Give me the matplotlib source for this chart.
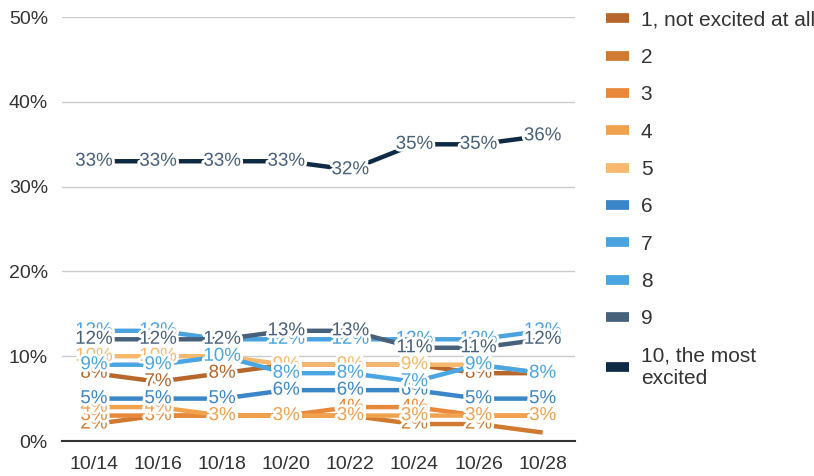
import matplotlib.pyplot as plt
import matplotlib.patheffects as pe
from matplotlib.lines import Line2D

plt.rcParams['font.family'] = ['Liberation Sans', 'DejaVu Sans']

dates = ['10/14', '10/16', '10/18', '10/20', '10/22', '10/24', '10/26', '10/28']

series_names = ['1, not excited at all', '2', '3', '4', '5', '6', '7', '8', '9',
                '10, the most\nexcited']
s1 = [8, 7, 8, 9, 9, 9, 8, 8]
s2 = [2, 3, 3, 3, 3, 2, 2, 1]
s3 = [3, 3, 3, 3, 4, 4, 3, 3]
s4 = [4, 4, 3, 3, 3, 3, 3, 3]
s5 = [10, 10, 10, 9, 9, 9, 9, 8]
s6 = [5, 5, 5, 6, 6, 6, 5, 5]
s7 = [13, 13, 12, 12, 12, 12, 12, 13]
s8 = [9, 9, 10, 8, 8, 7, 9, 8]
s9 = [12, 12, 12, 13, 13, 11, 11, 12]
s10 = [33, 33, 33, 33, 32, 35, 35, 36]
values = [s1, s2, s3, s4, s5, s6, s7, s8, s9, s10]

# labels the reference does not show (series index, date index)
hidden_labels = [(1, 7)]

colors = ['#b8672c', '#cf7a30', '#e8883a', '#f0a24e', '#f5b86c',
          '#3a86c8', '#4aa3df', '#4aa6e2', '#48617b', '#0f2a44']
label_colors = ['#b8672c', '#cf7a30', '#e8883a', '#f0a24e', '#f5b86c',
                '#3a86c8', '#4aa3df', '#4aa6e2', '#48617b', '#48617b']

fig = plt.figure(figsize=(8.14, 4.76), dpi=100)
ax = fig.add_axes([0.076, 0.0735, 0.63, 0.8905])

x = list(range(len(dates)))
for i, vals in enumerate(values):
    ax.plot(x, vals, color=colors[i], lw=3.2, solid_capstyle='butt', zorder=2)

# value labels, later series drawn on top
for i, vals in enumerate(values):
    for xi, v in zip(x, vals):
        if (i, xi) in hidden_labels:
            continue
        ax.text(xi, v, f'{v}%', ha='center', va='center', fontsize=13.5,
                color=label_colors[i], zorder=3 + i,
                path_effects=[pe.withStroke(linewidth=4, foreground='white')])

ax.set_xlim(-0.5, len(dates) - 0.5)
ax.set_ylim(0, 50)
ax.set_yticks([0, 10, 20, 30, 40, 50])
ax.set_yticklabels([f'{t}%' for t in [0, 10, 20, 30, 40, 50]])
ax.set_xticks(x)
ax.set_xticklabels(dates)
ax.tick_params(length=0, labelsize=14, colors='#333333', pad=10)
ax.tick_params(axis='x', pad=11)
ax.grid(axis='y', color='#cccccc', lw=1)
ax.set_axisbelow(True)
for sp in ['top', 'right', 'left']:
    ax.spines[sp].set_visible(False)
ax.spines['bottom'].set_color('#333333')
ax.spines['bottom'].set_linewidth(1.5)

handles = [Line2D([0], [0], color=c, lw=7, solid_capstyle='butt') for c in colors]
leg = fig.legend(handles, series_names, loc='upper left', bbox_to_anchor=(0.727, 1.008),
                 frameon=False, fontsize=15, handlelength=1.1, handletextpad=0.55,
                 labelspacing=0.88, borderaxespad=0.3)
for t in leg.get_texts():
    t.set_color('#333333')

fig.savefig('out.png', dpi=100)
